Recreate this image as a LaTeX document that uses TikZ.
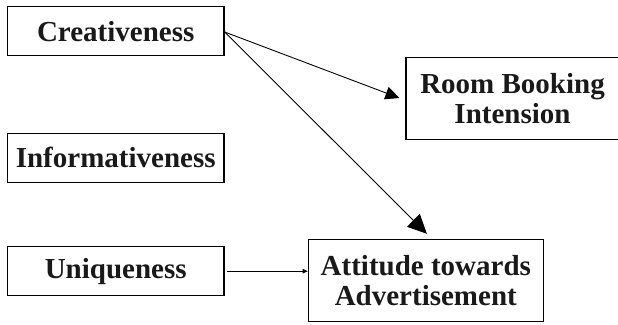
\documentclass[tikz,border=0pt]{standalone}
\usepackage{fontspec}
\setmainfont{Liberation Serif}
\usetikzlibrary{arrows.meta}
\tikzset{
  varbox/.style={draw, line width=1.2pt, rectangle, inner sep=0pt, align=center,
    font=\bfseries\fontsize{29}{30}\selectfont, text=black!90},
  link/.style={line width=0.9pt},
}
\begin{document}
\begin{tikzpicture}[x=1pt,y=-1pt]
\useasboundingbox (0,0) rectangle (618,324);
\node[varbox, minimum width=216.7pt, minimum height=49pt] (cre) at (115.7,31.2) {Creativeness};
\node[varbox, minimum width=216.7pt, minimum height=49pt] (inf) at (115.7,157.8) {Informativeness};
\node[varbox, minimum width=216.7pt, minimum height=49pt] (uni) at (115.7,271.2) {Uniqueness};
\node[varbox, minimum width=213pt, minimum height=82pt] (room) at (512.5,98.3) {Room Booking\\Intension};
\node[varbox, minimum width=235pt, minimum height=82.4pt] (att) at (425.8,280.5) {Attitude towards\\Advertisement};
\draw[link, -{Triangle[length=14pt,width=13pt]}, shorten >=6.4pt]
  ([yshift=-0.8pt]cre.east) -- ([yshift=-2pt]room.west);
\draw[link, -{Triangle[length=19pt,width=18pt]}, shorten >=7pt]
  ([yshift=-0.8pt]cre.east) -- ([xshift=6pt]att.north);
\draw[link, -{Triangle[length=5pt,width=4.5pt]}, shorten <=2.7pt]
  (uni.east) -- (uni.east -| att.west);
\end{tikzpicture}
\end{document}
